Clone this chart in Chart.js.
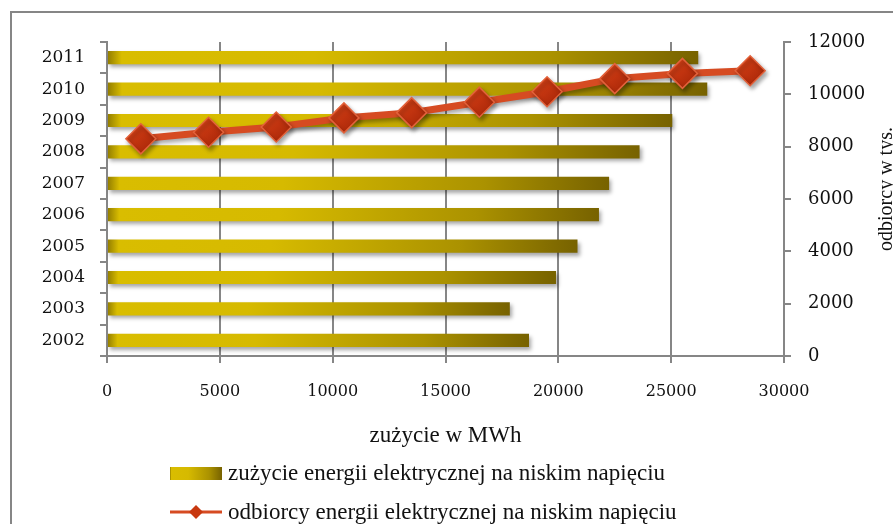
<!DOCTYPE html>
<html lang="pl">
<head>
<meta charset="utf-8">
<title>Zużycie i odbiorcy energii elektrycznej na niskim napięciu</title>
<script src="https://cdn.jsdelivr.net/npm/chart.js@4/dist/chart.umd.min.js"></script>
<style>
  html, body { margin: 0; padding: 0; background: #fff; }
  #wrap { position: relative; width: 893px; height: 524px; overflow: hidden; }
  #chart { position: absolute; left: 0; top: 0; }
  .legend { position: absolute; left: 170px; font-family: "Liberation Serif", serif; font-size: 23px; color: #111; }
  .legend .item { position: absolute; left: 0; white-space: nowrap; height: 26px; display: flex; align-items: center; }
  .legend canvas { display: block; margin-right: 6px; }
</style>
</head>
<body>
<div id="wrap">
  <canvas id="chart" width="893" height="524"></canvas>
  <div class="legend" id="legend"></div>
</div>
<script>
// Lata (kategorie)
const years = ['2002', '2003', '2004', '2005', '2006', '2007', '2008', '2009', '2010', '2011'];
// Zużycie energii elektrycznej na niskim napięciu [MWh]
const consumption = [18700, 17850, 19900, 20850, 21800, 22250, 23600, 25050, 26600, 26200];
// Odbiorcy energii elektrycznej na niskim napięciu [tys.]
const customers = [8300, 8550, 8750, 9100, 9300, 9700, 10100, 10600, 10800, 10900];
// Podziałki osi
const consumptionTicks = [0, 5000, 10000, 15000, 20000, 25000, 30000];
const customerTicks = [0, 2000, 4000, 6000, 8000, 10000, 12000];

const consumptionLabel = 'zużycie energii elektrycznej na niskim napięciu';
const customersLabel = 'odbiorcy energii elektrycznej na niskim napięciu';
const xTitle = 'zużycie w MWh';
const y2Title = 'odbiorcy w tys.';

const AXIS = '#868686';
const LINE = '#d64b22';
const FONT = 'Liberation Serif';
const NUM_FONT = 'DejaVu Serif';

Chart.defaults.font.family = FONT;
Chart.defaults.color = '#111';

function barGradient(g) {
  g.addColorStop(0, '#8f7a00');
  g.addColorStop(0.025, '#d9bd00');
  g.addColorStop(0.35, '#d6ba00');
  g.addColorStop(0.75, '#ab9200');
  g.addColorStop(1, '#776200');
  return g;
}

// Gradient each bar from its own base to its own end
function barFill(ctx) {
  const chart = ctx.chart;
  if (!chart.chartArea || ctx.type !== 'data') return '#c8ad00';
  const xs = chart.scales.x;
  const x0 = xs.getPixelForValue(0);
  const x1 = xs.getPixelForValue(ctx.raw);
  return barGradient(chart.ctx.createLinearGradient(x0, 0, x1, 0));
}

function pointFill(ctx) {
  const chart = ctx.chart;
  if (!chart.chartArea || ctx.type !== 'data') return '#c0330f';
  const px = chart.scales.x2.getPixelForValue(ctx.dataIndex);
  const py = chart.scales.y2.getPixelForValue(ctx.raw);
  const r = 15;
  const g = chart.ctx.createLinearGradient(px - r, py - r, px + r, py + r);
  g.addColorStop(0, '#dc4a1c');
  g.addColorStop(0.5, '#c0330f');
  g.addColorStop(1, '#a02306');
  return g;
}

// Soft drop shadows under bars and the line
const shadowPlugin = {
  id: 'shadows',
  beforeDatasetDraw(chart) {
    const c = chart.ctx;
    c.save();
    c.shadowColor = 'rgba(0,0,0,0.35)';
    c.shadowBlur = 4;
    c.shadowOffsetX = 2;
    c.shadowOffsetY = 3;
  },
  afterDatasetDraw(chart) {
    chart.ctx.restore();
  }
};

// Outer frame and the right-hand axis title (reads bottom to top)
const decorPlugin = {
  id: 'decor',
  beforeDraw(chart) {
    const c = chart.ctx;
    c.save();
    c.strokeStyle = AXIS;
    c.lineWidth = 2;
    c.strokeRect(11, 12, chart.width + 20, chart.height + 20);
    c.restore();
  },
  afterDraw(chart) {
    const c = chart.ctx;
    const s = chart.scales.y2;
    c.save();
    c.translate(892, (s.top + s.bottom) / 2 - 10);
    c.rotate(-Math.PI / 2);
    c.font = '20px "' + FONT + '"';
    c.fillStyle = '#111';
    c.textAlign = 'center';
    c.textBaseline = 'alphabetic';
    c.fillText(y2Title, 0, 0);
    c.restore();
  }
};

const chart = new Chart(document.getElementById('chart'), {
  type: 'bar',
  data: {
    labels: years,
    datasets: [
      {
        type: 'line',
        label: customersLabel,
        data: customers,
        indexAxis: 'x',
        xAxisID: 'x2',
        yAxisID: 'y2',
        order: 0,
        borderColor: LINE,
        borderWidth: 7,
        tension: 0,
        pointStyle: 'rectRot',
        pointRadius: 15,
        pointHoverRadius: 15,
        pointBorderWidth: 1.5,
        pointBorderColor: '#e2613a',
        pointBackgroundColor: pointFill
      },
      {
        type: 'bar',
        label: consumptionLabel,
        data: consumption,
        indexAxis: 'y',
        xAxisID: 'x',
        yAxisID: 'y',
        order: 1,
        grouped: false,
        backgroundColor: barFill,
        borderWidth: 0,
        barPercentage: 0.42,
        categoryPercentage: 1
      }
    ]
  },
  options: {
    indexAxis: 'y',
    responsive: false,
    devicePixelRatio: 1,
    animation: false,
    layout: { padding: { top: 42, bottom: 68, left: 0, right: 0 } },
    plugins: {
      legend: { display: false },
      tooltip: { enabled: false }
    },
    scales: {
      x: {
        type: 'linear',
        position: 'bottom',
        offset: false,
        min: consumptionTicks[0],
        max: consumptionTicks[consumptionTicks.length - 1],
        afterBuildTicks(scale) { scale.ticks = consumptionTicks.map(v => ({ value: v })); },
        afterFit(scale) { scale.height = 100; },
        ticks: {
          padding: 19,
          font: { family: NUM_FONT, size: 16 },
          callback: v => String(v)
        },
        grid: { offset: false, color: AXIS, lineWidth: 2, tickLength: 7, drawTicks: true },
        border: { color: AXIS, width: 2 },
        title: { display: true, text: xTitle, font: { size: 23 }, padding: { top: 0, bottom: 6 } }
      },
      y: {
        type: 'category',
        position: 'left',
        reverse: true,
        offset: true,
        afterFit(scale) { scale.width = 107; },
        ticks: { padding: 15, font: { family: NUM_FONT, size: 17 } },
        grid: { offset: true, drawOnChartArea: false, color: AXIS, lineWidth: 2, tickLength: 7 },
        border: { color: AXIS, width: 2 }
      },
      x2: {
        type: 'category',
        position: 'top',
        display: false,
        offset: true
      },
      y2: {
        type: 'linear',
        position: 'right',
        offset: false,
        min: customerTicks[0],
        max: customerTicks[customerTicks.length - 1],
        afterBuildTicks(scale) { scale.ticks = customerTicks.map(v => ({ value: v })); },
        afterFit(scale) { scale.width = 109; },
        ticks: { padding: 17, font: { family: NUM_FONT, size: 18 }, callback: v => String(v) },
        grid: { offset: false, drawOnChartArea: false, color: AXIS, lineWidth: 2, tickLength: 7 },
        border: { color: AXIS, width: 2 }
      }
    }
  },
  plugins: [shadowPlugin, decorPlugin]
});

// Legend below the chart, built from the dataset labels
(function buildLegend() {
  const box = document.getElementById('legend');
  const rows = [
    { label: consumptionLabel, top: 460, draw: c => {
        const g = barGradient(c.createLinearGradient(0, 0, 52, 0));
        c.fillStyle = g;
        c.fillRect(0, 7, 52, 13);
      } },
    { label: customersLabel, top: 499, draw: c => {
        c.strokeStyle = LINE;
        c.lineWidth = 3;
        c.beginPath(); c.moveTo(0, 13); c.lineTo(52, 13); c.stroke();
        c.fillStyle = '#c8380f';
        c.beginPath();
        c.moveTo(26 - 7, 13); c.lineTo(26, 6); c.lineTo(26 + 7, 13); c.lineTo(26, 20);
        c.closePath(); c.fill();
      } }
  ];
  rows.forEach(r => {
    const item = document.createElement('div');
    item.className = 'item';
    item.style.top = r.top + 'px';
    const cv = document.createElement('canvas');
    cv.width = 52; cv.height = 26;
    r.draw(cv.getContext('2d'));
    const span = document.createElement('span');
    span.textContent = r.label;
    item.appendChild(cv);
    item.appendChild(span);
    box.appendChild(item);
  });
})();
</script>
</body>
</html>
